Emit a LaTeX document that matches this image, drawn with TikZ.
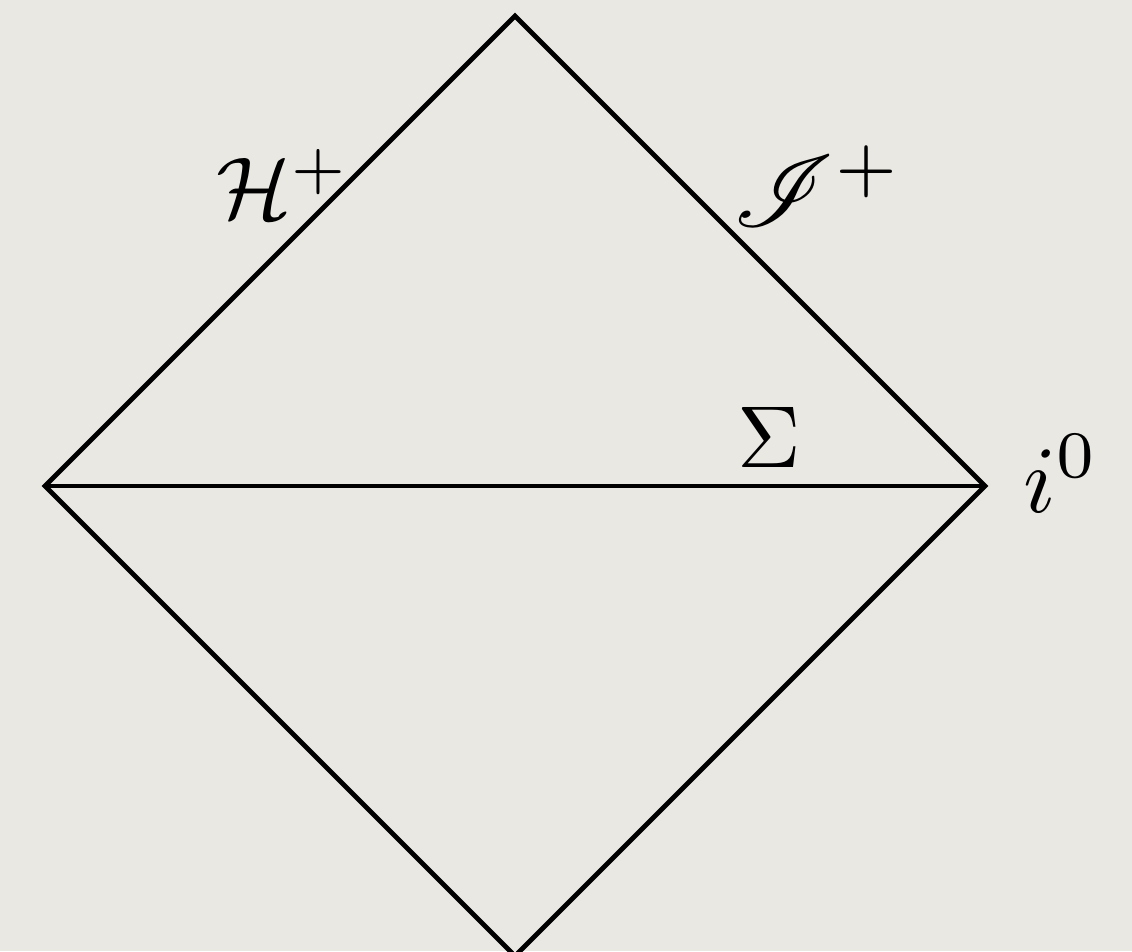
\documentclass[tikz,border=0pt]{standalone}
\usepackage{amsmath,amssymb}
\usepackage{mathrsfs}
\usepackage{tikz}
\usetikzlibrary{positioning}

\definecolor{paper}{RGB}{234,232,227}

\tikzset{
  edge/.style={line width=2.7pt, line join=miter, black},
  bigmath/.style={inner sep=0pt, scale=5}
}

\begin{document}
\begin{tikzpicture}
  % paper background, fixes the page size
  \fill[paper] (-10.3,-9.3) rectangle (12.34,9.72);
  \useasboundingbox (-10.3,-9.3) rectangle (12.34,9.72);

  % corners of the diagram
  \coordinate (top) at (0,9.4);
  \coordinate (left) at (-9.4,0);
  \coordinate (right) at (9.4,0);
  \coordinate (bottom) at (0,-9.4);

  % diamond and the slice
  \draw[edge] (top) -- (right) -- (bottom) -- (left) -- cycle;
  \draw[edge] (left) -- (right);

  % labels
  \node[bigmath, anchor=base west] (hplus) at (-6.0,5.34) {$\mathcal{H}^+$};
  \node[bigmath, scale=1.15] (scriplus) at (6.06,6.0) {$\mathscr{I}^+$};
  \node[bigmath, anchor=base west] (sigma) at (4.42,0.36) {$\Sigma$};
  \node[bigmath, anchor=base west, scale=1.08] (izero) at (10.14,-0.52) {$i^0$};
\end{tikzpicture}
\end{document}
